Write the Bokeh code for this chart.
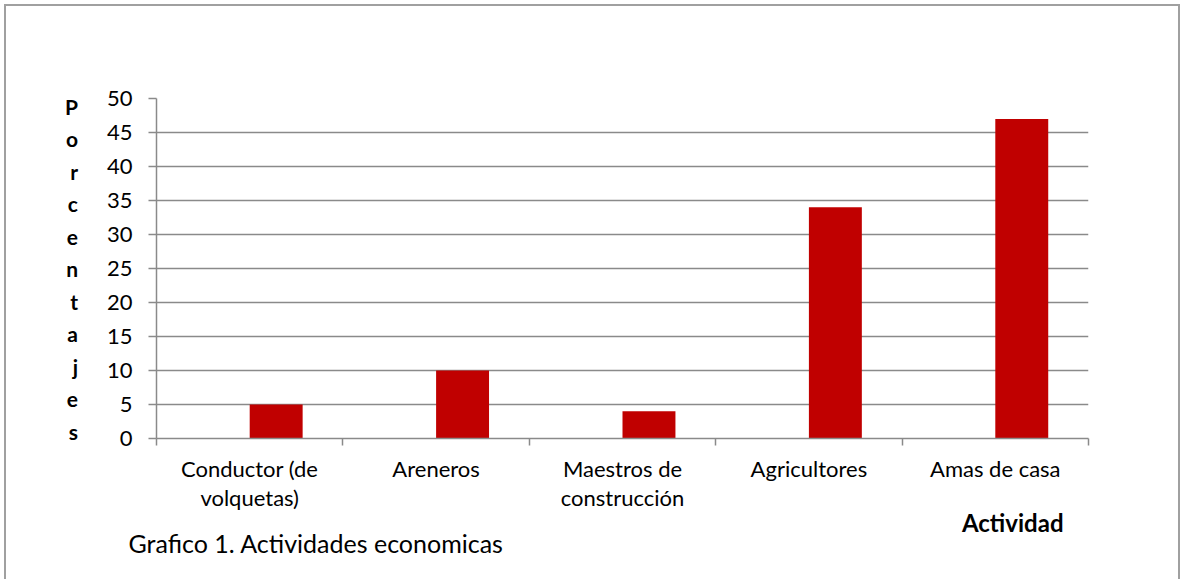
from bokeh.plotting import figure
from bokeh.models import (Range1d, FactorRange, LinearAxis, CategoricalAxis,
                          FixedTicker, Title, ColumnDataSource)
from bokeh.transform import dodge
from bokeh.embed import file_html
from bokeh.resources import INLINE

# ---- data ----
categories = ["Conductor (de\nvolquetas)", "Areneros", "Maestros de\nconstrucción",
              "Agricultores", "Amas de casa"]
values = [5, 10, 4, 34, 47]
y_ticks = [0, 5, 10, 15, 20, 25, 30, 35, 40, 45, 50]
y_title = "Porcentajes"
x_title = "Actividad"
caption = "Grafico  1. Actividades  economicas"

FONT = "Lato"
GRAY = "#8a8a8a"
W, H = 1176, 575

src = ColumnDataSource(dict(cat=categories, val=values))

p = figure(x_range=FactorRange(factors=categories), y_range=Range1d(0, 50),
           width=W, height=H, output_backend="svg", toolbar_location=None,
           x_axis_location=None,
           min_border_left=150, min_border_right=94, min_border_top=92,
           min_border_bottom=143,
           styles={"margin-left": "4px", "margin-top": "4px",
                   "border-left": "2px solid #a0a0a0",
                   "border-top": "2px solid #a0a0a0",
                   "border-right": "2px solid #a0a0a0",
                   "border-bottom": "none"})
p.outline_line_color = None
p.background_fill_color = "white"
p.border_fill_color = "white"

# y axis
yax = p.yaxis[0]
yax.ticker = FixedTicker(ticks=y_ticks)
yax.axis_line_color = GRAY
yax.axis_line_width = 1.5
yax.major_tick_line_color = GRAY
yax.major_tick_line_width = 1.5
yax.major_tick_out = 8
yax.major_tick_in = 0
yax.minor_tick_line_color = None
yax.major_label_text_font = FONT
yax.major_label_text_font_size = "22px"
yax.major_label_text_color = "black"
yax.major_label_standoff = 16
yax.axis_label = "\n".join(y_title)
yax.axis_label_orientation = "horizontal"
yax.axis_label_text_font = FONT
yax.axis_label_text_font_style = "bold"
yax.axis_label_text_font_size = "21px"
yax.axis_label_text_line_height = 1.3
yax.axis_label_text_color = "black"
yax.axis_label_standoff = 26

p.ygrid.grid_line_color = GRAY
p.ygrid.grid_line_width = 1.5
p.xgrid.visible = False

# x axis: ticks on category boundaries (synthetic coordinates 0..n)
tick_axis = LinearAxis(ticker=FixedTicker(ticks=list(range(len(categories) + 1))))
tick_axis.axis_line_color = GRAY
tick_axis.axis_line_width = 1.5
tick_axis.major_tick_line_color = GRAY
tick_axis.major_tick_line_width = 1.5
tick_axis.major_tick_out = 7
tick_axis.major_tick_in = 0
tick_axis.minor_tick_line_color = None
tick_axis.major_label_text_font_size = "0px"
tick_axis.major_label_text_color = None
tick_axis.major_label_standoff = 0
p.add_layout(tick_axis, "below")

cat_axis = CategoricalAxis()
cat_axis.axis_line_color = None
cat_axis.major_tick_line_color = None
cat_axis.minor_tick_line_color = None
cat_axis.major_label_text_font = FONT
cat_axis.major_label_text_font_size = "22px"
cat_axis.major_label_text_line_height = 1.08
cat_axis.major_label_text_color = "black"
cat_axis.major_label_standoff = 3
p.add_layout(cat_axis, "below")

# bars (offset right as in a two-series clustered chart)
p.vbar(x=dodge("cat", 0.142, range=p.x_range), top="val", width=0.284,
       source=src, fill_color="#C00000", line_color=None)

# texts
p.add_layout(Title(text=x_title, align="right", offset=25, standoff=-15,
                   text_font=FONT, text_font_style="bold", text_font_size="24px",
                   text_color="black"), "below")
p.add_layout(Title(text=caption, align="left", offset=-28, standoff=-7,
                   text_font=FONT, text_font_style="normal", text_font_size="25px",
                   text_color="black"), "below")

open("out.html", "w").write(file_html(p, INLINE))
